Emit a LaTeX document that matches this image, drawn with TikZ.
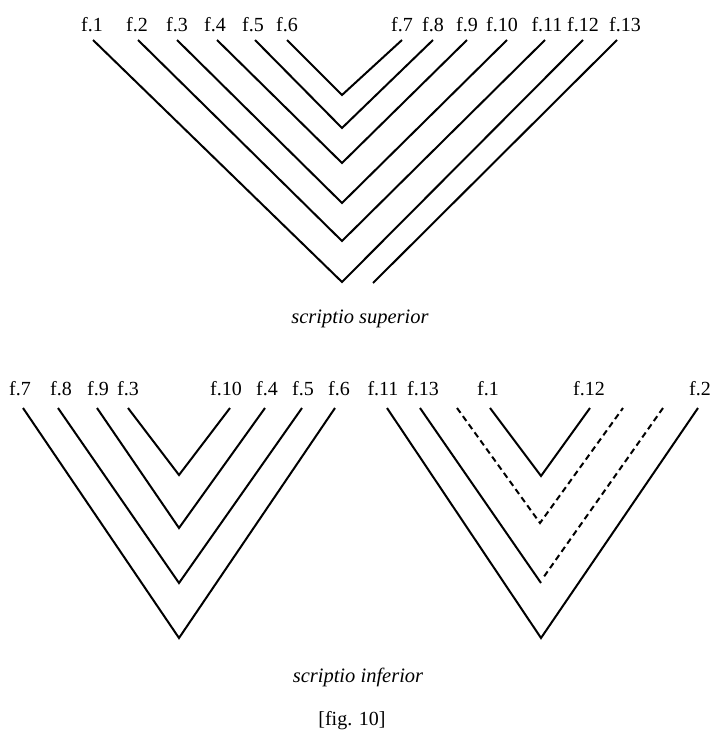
\documentclass[tikz,border=0pt]{standalone}
\usepackage{fontspec}
\setmainfont{Liberation Serif}
\usepackage{tikz}
\tikzset{
  folio/.style={anchor=base, inner sep=0pt, font=\fontsize{20}{20}\selectfont},
  capnode/.style={anchor=base, inner sep=0pt, font=\fontsize{20.5}{20.5}\selectfont\itshape},
  strand/.style={draw=black, line width=2pt, line join=miter},
  lacuna/.style={strand, dash pattern=on 6pt off 4pt},
}
\begin{document}
\begin{tikzpicture}[x=1pt, y=-1pt]
  \useasboundingbox (0,0) rectangle (712,731);
  % scriptio superior
  \node[folio] (sl1) at (92,31) {f.1};
  \node[folio] (sl2) at (137,31) {f.2};
  \node[folio] (sl3) at (177,31) {f.3};
  \node[folio] (sl4) at (215,31) {f.4};
  \node[folio] (sl5) at (253,31) {f.5};
  \node[folio] (sl6) at (287,31) {f.6};
  \node[folio] (sl7) at (402,31) {f.7};
  \node[folio] (sl8) at (433,31) {f.8};
  \node[folio] (sl9) at (467,31) {f.9};
  \node[folio] (sl10) at (502,31) {f.10};
  \node[folio] (sl11) at (547,31) {f.11};
  \node[folio] (sl12) at (583,31) {f.12};
  \node[folio] (sl13) at (625,31) {f.13};
  \coordinate (st1) at (93,40);
  \coordinate (st2) at (138,40);
  \coordinate (st3) at (177,40);
  \coordinate (st4) at (217,40);
  \coordinate (st5) at (255,40);
  \coordinate (st6) at (287,40);
  \coordinate (st7) at (402,40);
  \coordinate (st8) at (433,40);
  \coordinate (st9) at (467,40);
  \coordinate (st10) at (507,40);
  \coordinate (st11) at (545,40);
  \coordinate (st12) at (583,40);
  \coordinate (st13) at (617,40);
  \coordinate (sv6) at (342,95);
  \coordinate (sv5) at (342,128);
  \coordinate (sv4) at (342,163);
  \coordinate (sv3) at (342,203);
  \coordinate (sv2) at (342,241);
  \coordinate (sv1) at (342,282);
  \coordinate (se13) at (373,283);
  \draw[strand] (st6) -- (sv6) -- (st7);
  \draw[strand] (st5) -- (sv5) -- (st8);
  \draw[strand] (st4) -- (sv4) -- (st9);
  \draw[strand] (st3) -- (sv3) -- (st10);
  \draw[strand] (st2) -- (sv2) -- (st11);
  \draw[strand] (st1) -- (sv1) -- (st12);
  \draw[strand] (st13) -- (se13);
  \node[capnode] (sup) at (360,323) {scriptio superior};

  % scriptio inferior, left quire
  \node[folio] (ll7) at (20,395) {f.7};
  \node[folio] (ll8) at (61,395) {f.8};
  \node[folio] (ll9) at (98,395) {f.9};
  \node[folio] (ll3) at (128,395) {f.3};
  \node[folio] (ll10) at (226,395) {f.10};
  \node[folio] (ll4) at (267,395) {f.4};
  \node[folio] (ll5) at (303,395) {f.5};
  \node[folio] (ll6) at (339,395) {f.6};
  \coordinate (lt7) at (23,408);
  \coordinate (lt8) at (58,408);
  \coordinate (lt9) at (97,408);
  \coordinate (lt3) at (128,408);
  \coordinate (lt10) at (230,408);
  \coordinate (lt4) at (265,408);
  \coordinate (lt5) at (302,408);
  \coordinate (lt6) at (335,408);
  \coordinate (lv1) at (179,475);
  \coordinate (lv2) at (179,528);
  \coordinate (lv3) at (179,583);
  \coordinate (lv4) at (179,638);
  \draw[strand] (lt3) -- (lv1) -- (lt10);
  \draw[strand] (lt9) -- (lv2) -- (lt4);
  \draw[strand] (lt8) -- (lv3) -- (lt5);
  \draw[strand] (lt7) -- (lv4) -- (lt6);

  % scriptio inferior, right quire
  \node[folio] (rl11) at (383,395) {f.11};
  \node[folio] (rl13) at (423,395) {f.13};
  \node[folio] (rl1) at (488,395) {f.1};
  \node[folio] (rl12) at (589,395) {f.12};
  \node[folio] (rl2) at (700,395) {f.2};
  \coordinate (rt11) at (387,408);
  \coordinate (rt13) at (420,408);
  \coordinate (rtd1) at (457,408);
  \coordinate (rt1) at (490,408);
  \coordinate (rt12) at (590,408);
  \coordinate (rtd2) at (623,408);
  \coordinate (rtd3) at (663,408);
  \coordinate (rt2) at (698,408);
  \coordinate (rv1) at (541,476);
  \coordinate (rv2) at (540,523);
  \coordinate (rv3) at (541,583);
  \coordinate (rv3d) at (543,578);
  \coordinate (rv4) at (541,638);
  \draw[strand] (rt1) -- (rv1) -- (rt12);
  \draw[lacuna] (rtd1) -- (rv2) -- (rtd2);
  \draw[strand] (rt13) -- (rv3);
  \draw[lacuna] (rtd3) -- (rv3d);
  \draw[strand] (rt11) -- (rv4) -- (rt2);

  \node[capnode] (inf) at (358,682) {scriptio inferior};
  \node[folio] (fig) at (352,725) {[fig. 10]};
\end{tikzpicture}
\end{document}
